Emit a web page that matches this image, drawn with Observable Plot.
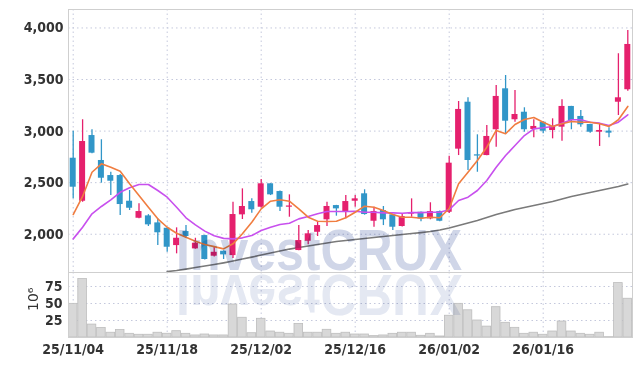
<!DOCTYPE html>
<html><head><meta charset="utf-8">
<script src="https://cdn.jsdelivr.net/npm/d3@7"></script>
<script src="https://cdn.jsdelivr.net/npm/@observablehq/plot@0.6"></script>
<style>
html,body{margin:0;padding:0;background:#fff;}
#wrap{position:relative;width:642px;height:366px;overflow:hidden;isolation:isolate;background:#fff;}
#price{position:absolute;left:0;top:0;}
#vol{position:absolute;left:0;top:272px;}
#wm{position:absolute;left:0;top:0;pointer-events:none;mix-blend-mode:multiply;}
svg{display:block;}
</style></head>
<body>
<div id="wrap">
  <div id="price"></div>
  <div id="vol"></div>
  <svg id="wm" width="642" height="366">
    <text x="176" y="270" font-family="'Liberation Sans',Arial,sans-serif" font-weight="bold" font-size="57" textLength="286" lengthAdjust="spacingAndGlyphs" fill="#d0d6e8">InvestCRUX</text>
    <text x="176" y="270" transform="translate(0,545) scale(1,-1)" font-family="'Liberation Sans',Arial,sans-serif" font-weight="bold" font-size="57" textLength="286" lengthAdjust="spacingAndGlyphs" fill="#e4e8f2">InvestCRUX</text>
  </svg>
</div>
<script>
const dates = ["25/11/04","25/11/05","25/11/06","25/11/07","25/11/10","25/11/11","25/11/12","25/11/13","25/11/14","25/11/17",
"25/11/18","25/11/19","25/11/20","25/11/21","25/11/24","25/11/25","25/11/26","25/11/27","25/11/28","25/12/01",
"25/12/02","25/12/03","25/12/04","25/12/05","25/12/08","25/12/09","25/12/10","25/12/11","25/12/12","25/12/15",
"25/12/16","25/12/17","25/12/18","25/12/19","25/12/22","25/12/23","25/12/24","25/12/26","25/12/29","25/12/30",
"26/01/02","26/01/05","26/01/06","26/01/07","26/01/08","26/01/09","26/01/12","26/01/13","26/01/14","26/01/15",
"26/01/16","26/01/19","26/01/20","26/01/21","26/01/22","26/01/23","26/01/26","26/01/27","26/01/28","26/01/29"];
const open = [2737,2320,2957,2715,2569,2569,2320,2155,2178,2110,2058,1890,2026,1858,1987,1787,1835,1793,2188,2317,2262,2489,2414,2262,1842,1932,2019,2140,2278,2213,2320,2392,2126,2230,2188,2075,2195,2213,2149,2220,2213,2825,3280,2770,2763,3013,3410,3110,3183,3016,3086,3006,3038,3239,3142,3064,2989,3000,3280,3401];
const close = [2456,2899,2786,2543,2514,2288,2252,2220,2091,2014,1874,1961,1978,1913,1755,1825,1800,2191,2269,2237,2489,2382,2262,2268,1939,2004,2084,2269,2246,2317,2343,2191,2220,2140,2068,2172,2205,2149,2220,2126,2689,3210,2715,2760,2948,3336,3096,3161,3013,3045,2999,3045,3239,3103,3061,2989,3006,2980,3323,3840];
const high = [2999,3110,3013,2916,2601,2580,2424,2295,2190,2149,2060,2062,2084,1961,1990,1881,1840,2310,2440,2343,2531,2490,2420,2382,2084,2036,2123,2310,2280,2375,2375,2431,2262,2269,2190,2198,2343,2215,2305,2225,2757,3287,3323,2964,3054,3442,3539,3394,3226,3110,3090,3119,3304,3240,3200,3066,3071,3032,3750,3976];
const low = [2343,2310,2780,2495,2375,2181,2230,2150,2075,1890,1825,1810,1960,1855,1750,1780,1755,1764,2143,2204,2255,2375,2220,2165,1840,1897,1978,2075,2175,2149,2262,2185,2068,2084,2036,2070,2165,2120,2140,2120,2200,2763,2618,2601,2760,2844,2974,3087,2989,2935,2974,2925,2902,3013,3038,2980,2851,2935,3151,3387];
const ma5 = [2191,2366,2601,2683,2650,2611,2489,2375,2262,2149,2068,2010,1971,1932,1900,1880,1858,1907,2004,2116,2246,2320,2334,2320,2246,2165,2126,2123,2126,2160,2213,2272,2262,2230,2191,2165,2165,2155,2165,2160,2250,2489,2601,2715,2844,3006,2974,3064,3113,3132,3086,3045,3071,3093,3086,3086,3071,3045,3110,3239];
const ma20 = [1955,2068,2198,2269,2334,2407,2450,2482,2482,2424,2359,2262,2159,2090,2030,1985,1960,1955,1965,1987,2036,2068,2094,2107,2149,2172,2198,2220,2220,2220,2223,2213,2213,2207,2207,2204,2210,2210,2213,2213,2237,2327,2359,2424,2521,2650,2763,2860,2957,3022,3032,3045,3077,3110,3110,3086,3077,3054,3086,3158];
const ma120 = [null,null,null,null,null,null,null,null,null,null,1638,1648,1662,1677,1692,1706,1722,1740,1760,1778,1798,1818,1837,1856,1871,1886,1900,1915,1929,1939,1949,1958,1968,1978,1987,1997,2007,2016,2026,2041,2060,2084,2109,2133,2162,2191,2215,2240,2259,2278,2298,2317,2341,2366,2385,2404,2424,2443,2463,2487];
const volume = [49.5,86,19,14,7,11,5.4,4,4,7,5.5,9.3,5.4,3,4.4,3,3,48.5,29,6.3,27.5,8.8,7,5.4,20,7,7,11.3,5.4,7,4.4,4.4,2,3,5.4,7,7,2.5,5.4,1.5,32,49.5,40,25,16,44.6,21.6,14.2,5.4,7,4,8.8,23.5,8.8,5.4,4,7,0.5,80,57];
const priceTicks = [2000,2500,3000,3500,4000];
const volTicks = [25,50,75];
const dateTicks = ["25/11/04","25/11/18","25/12/02","25/12/16","26/01/02","26/01/16"];

const UP = "#e5206d", DOWN = "#3196c8";
const rows = dates.map((d,i)=>({date:d, open:open[i], close:close[i], high:high[i], low:low[i],
  ma5:ma5[i], ma20:ma20[i], ma120:ma120[i], vol:volume[i]}));
const col = d => d.close >= d.open ? UP : DOWN;
const font = "'Liberation Sans Narrow','DejaVu Sans Condensed',sans-serif";
const xOpts = {type:"band", domain:dates, paddingInner:0, paddingOuter:0, round:false, axis:null};
const gridStyle = {stroke:"#c4c8dc", strokeOpacity:1, strokeDasharray:"1.5,3"};
const txt = {fontSize:14, fontWeight:"bold", fill:"#333", label:null};

const price = Plot.plot({
  width:642, height:272, marginLeft:68, marginRight:10, marginTop:9, marginBottom:0,
  style:{fontFamily:font, fontSize:"14px", color:"#333", background:"transparent"},
  x: xOpts,
  y: {domain:[1629,4179], axis:null},
  marks:[
    Plot.gridX(dateTicks, gridStyle),
    Plot.gridY(priceTicks, gridStyle),
    Plot.frame({stroke:"#cfcfcf"}),
    Plot.axisY(priceTicks, {tickSize:0, tickPadding:5, tickFormat:d3.format(","), ...txt}),
    Plot.lineY(rows.filter(d=>d.ma120!=null), {x:"date", y:"ma120", stroke:"#7a7a7a", strokeWidth:1.6}),
    Plot.ruleX(rows, {x:"date", y1:"low", y2:"high", stroke:col, strokeWidth:1.3}),
    Plot.barY(rows, {x:"date", y1:"open", y2:d=> Math.abs(d.close-d.open)<12 ? d.open + (d.close>=d.open?12:-12) : d.close, fill:col, insetLeft:1.7, insetRight:1.7}),
    Plot.lineY(rows, {x:"date", y:"ma20", stroke:"#c850ee", strokeWidth:1.6}),
    Plot.lineY(rows, {x:"date", y:"ma5", stroke:"#f07d40", strokeWidth:1.6})
  ]
});
document.getElementById("price").appendChild(price);

const vol = Plot.plot({
  width:642, height:94, marginLeft:68, marginRight:10, marginTop:0, marginBottom:29,
  style:{fontFamily:font, fontSize:"14px", color:"#333", background:"transparent"},
  x: xOpts,
  y: {domain:[0,95.6], axis:null},
  marks:[
    Plot.gridX(dateTicks, gridStyle),
    Plot.gridY(volTicks, gridStyle),
    Plot.barY(rows, {x:"date", y:"vol", fill:"#d8d8d8", stroke:"#bdbdbd", strokeWidth:0.8, insetLeft:0.4, insetRight:0.4}),
    Plot.frame({stroke:"#cfcfcf"}),
    Plot.axisY(volTicks, {tickSize:0, tickPadding:6, ...txt}),
    Plot.axisX(dateTicks, {tickSize:0, tickPadding:7, ...txt}),
    Plot.text(["10⁶"], {frameAnchor:"left", dx:-35, dy:6, rotate:-90, fontFamily:"'DejaVu Sans',sans-serif", fontSize:14, fill:"#333"})
  ]
});
document.getElementById("vol").appendChild(vol);
</script>
</body></html>
